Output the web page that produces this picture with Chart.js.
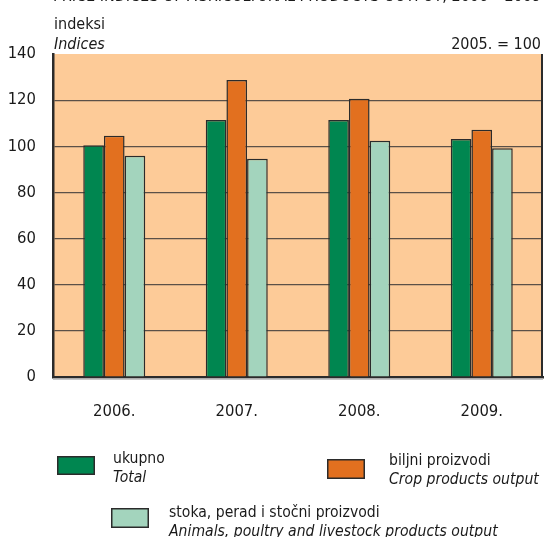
<!DOCTYPE html>
<html>
<head>
<meta charset="utf-8">
<script src="https://cdn.jsdelivr.net/npm/chart.js@4/dist/chart.umd.min.js"></script>
<style>
  html, body { margin: 0; padding: 0; background: #ffffff; }
  #wrap { width: 544px; height: 537px; position: relative; }
</style>
</head>
<body>
<div id="wrap"><canvas id="chart" width="544" height="537"></canvas></div>
<script>
// Years on the category axis
const categories = ['2006.', '2007.', '2008.', '2009.'];
// Price indices, 2005 = 100
const totalValues = [100.4, 111.4, 111.4, 103.2];
const cropValues = [104.6, 128.7, 120.6, 107.2];
const animalValues = [95.9, 94.6, 102.4, 99.1];
// Value axis ticks
const yTicks = [0, 20, 40, 60, 80, 100, 120, 140];
// Series names (Croatian / English)
const seriesNamesHr = ['ukupno', 'biljni proizvodi', 'stoka, perad i stočni proizvodi'];
const seriesNamesEn = ['Total', 'Crop products output', 'Animals, poultry and livestock products output'];

const FONT = '"Liberation Sans Narrow", "DejaVu Sans Condensed", "Arial Narrow", sans-serif';
const COLORS = ['#008650', '#e2701f', '#a3d4bd'];
const EDGE = '#2b2b2b';

// Peach plot background, right frame edge and shadow under the base line
const frame = {
  id: 'frame',
  beforeDraw(chart) {
    const { ctx, chartArea: a } = chart;
    ctx.save();
    ctx.fillStyle = '#fdcb98';
    ctx.fillRect(a.left, a.top, a.right - a.left, a.bottom - a.top);
    ctx.restore();
  },
  afterDraw(chart) {
    const { ctx, chartArea: a } = chart;
    ctx.save();
    ctx.strokeStyle = EDGE;
    ctx.lineWidth = 2;
    ctx.beginPath();
    ctx.moveTo(a.right - 1, a.top);
    ctx.lineTo(a.right - 1, a.bottom);
    ctx.stroke();
    ctx.strokeStyle = '#b5b5b5';
    ctx.lineWidth = 1.5;
    ctx.beginPath();
    ctx.moveTo(a.left, a.bottom + 2);
    ctx.lineTo(a.right, a.bottom + 2);
    ctx.stroke();
    ctx.restore();
  }
};

// Header texts and the two-language legend
const annotations = {
  id: 'annotations',
  afterDraw(chart) {
    const { ctx, chartArea: a } = chart;
    ctx.save();
    ctx.fillStyle = '#1a1a1a';
    ctx.textBaseline = 'alphabetic';

    ctx.font = '16px ' + FONT;
    ctx.textAlign = 'left';
    ctx.fillText('PRICE INDICES OF AGRICULTURAL PRODUCTS OUTPUT, 2006 – 2009', a.left, 1);
    ctx.fillText('indeksi', a.left + 1, 29);
    ctx.font = 'italic 16px ' + FONT;
    ctx.fillText('Indices', a.left + 1, 49);
    ctx.font = '16px ' + FONT;
    ctx.textAlign = 'right';
    ctx.fillText('2005. = 100', 541, 49);

    const items = [
      { box: [57, 456, 38, 19], tx: 113, base: 463 },
      { box: [327, 459, 38, 20], tx: 389, base: 465 },
      { box: [111, 508, 38, 20], tx: 169, base: 517 }
    ];
    items.forEach((it, i) => {
      const [x, y, w, h] = it.box;
      ctx.fillStyle = COLORS[i];
      ctx.fillRect(x, y, w, h);
      ctx.strokeStyle = EDGE;
      ctx.lineWidth = 1.5;
      ctx.strokeRect(x + 0.75, y + 0.75, w - 1.5, h - 1.5);
      ctx.fillStyle = '#1a1a1a';
      ctx.textAlign = 'left';
      ctx.font = '15.6px ' + FONT;
      ctx.fillText(seriesNamesHr[i], it.tx, it.base);
      ctx.font = 'italic 15.6px ' + FONT;
      ctx.fillText(seriesNamesEn[i], it.tx, it.base + 19);
    });
    ctx.restore();
  }
};

const seriesValues = [totalValues, cropValues, animalValues];

new Chart(document.getElementById('chart'), {
  type: 'bar',
  data: {
    labels: categories,
    datasets: seriesValues.map((vals, i) => ({
      label: seriesNamesHr[i],
      data: vals,
      backgroundColor: COLORS[i],
      borderColor: EDGE,
      borderWidth: 1.5,
      borderSkipped: 'bottom',
      categoryPercentage: 0.506,
      barPercentage: 1
    }))
  },
  options: {
    responsive: false,
    animation: false,
    devicePixelRatio: 1,
    layout: { padding: { top: 54, right: 1, left: 0, bottom: 0 } },
    plugins: {
      legend: { display: false },
      tooltip: { enabled: false },
      title: { display: false }
    },
    scales: {
      x: {
        afterFit(scale) { scale.height = 160; },
        grid: { display: false, drawTicks: false },
        border: { display: true, color: EDGE, width: 2.5 },
        ticks: {
          padding: 25,
          color: '#1a1a1a',
          font: { family: FONT, size: 16.5 }
        }
      },
      y: {
        min: 0,
        max: 140,
        afterFit(scale) { scale.width = 53; },
        afterBuildTicks(scale) { scale.ticks = yTicks.map(v => ({ value: v })); },
        grid: {
          drawTicks: false,
          color: (c) => (c.tick && (c.tick.value === 0 || c.tick.value === 140)) ? 'rgba(0,0,0,0)' : '#5b5047',
          lineWidth: 1.2
        },
        border: { display: true, color: EDGE, width: 2.5 },
        ticks: {
          padding: 17,
          color: '#1a1a1a',
          font: { family: FONT, size: 16.5 }
        }
      }
    }
  },
  plugins: [frame, annotations]
});
</script>
</body>
</html>
